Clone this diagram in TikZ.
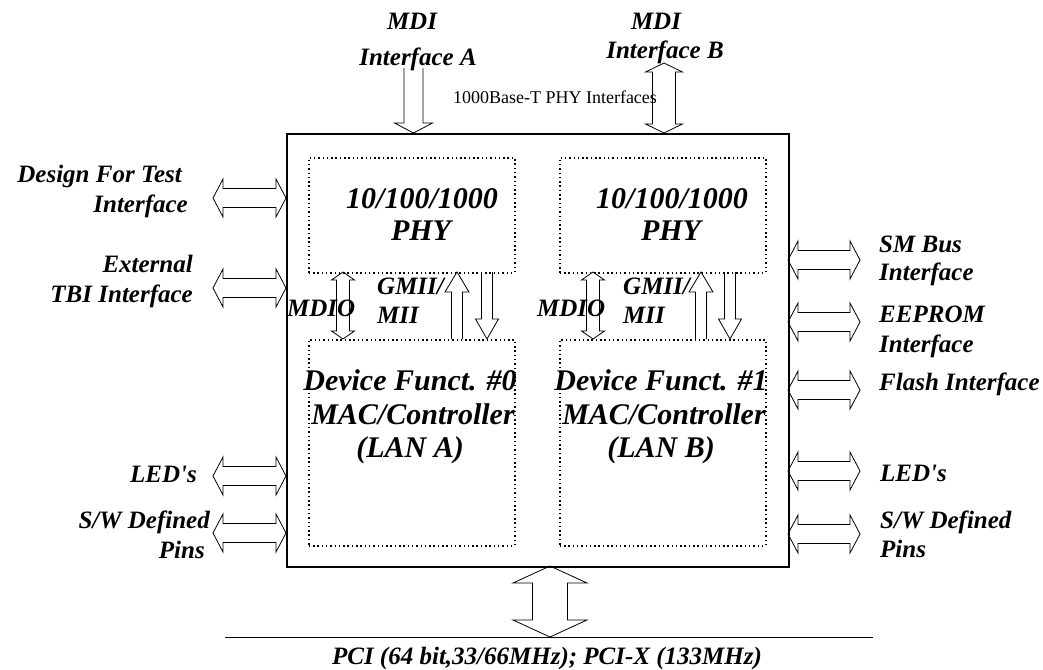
\documentclass[tikz,border=0pt]{standalone}
\usepackage{fontspec}
\setmainfont{Liberation Serif}
% vertical double block arrow: x, ytop, ybot, shaft half, head half, head length
\newcommand\blkdv[6]{\draw[blk] (#1,#2) -- (#1+#5,#2+#6) -- (#1+#4,#2+#6) -- (#1+#4,#3-#6) -- (#1+#5,#3-#6) -- (#1,#3) -- (#1-#5,#3-#6) -- (#1-#4,#3-#6) -- (#1-#4,#2+#6) -- (#1-#5,#2+#6) -- cycle;}
% horizontal double block arrow: x1, x2, y, shaft half, head half, head length
\newcommand\blkdh[6]{\draw[blk] (#1,#3) -- (#1+#6,#3-#5) -- (#1+#6,#3-#4) -- (#2-#6,#3-#4) -- (#2-#6,#3-#5) -- (#2,#3) -- (#2-#6,#3+#5) -- (#2-#6,#3+#4) -- (#1+#6,#3+#4) -- (#1+#6,#3+#5) -- cycle;}
% downward single block arrow (open tail): x, ytop, ytip, shaft half, head half, head length
\newcommand\blkdown[6]{\draw[blk] (#1-#4,#2) -- (#1-#4,#3-#6) -- (#1-#5,#3-#6) -- (#1,#3) -- (#1+#5,#3-#6) -- (#1+#4,#3-#6) -- (#1+#4,#2);}
% upward single block arrow (open tail): x, ytip, ybot, shaft half, head half, head length
\newcommand\blkup[6]{\draw[blk] (#1-#4,#3) -- (#1-#4,#2+#6) -- (#1-#5,#2+#6) -- (#1,#2) -- (#1+#5,#2+#6) -- (#1+#4,#2+#6) -- (#1+#4,#3);}
\tikzset{
  lbl/.style={font=\fontsize{25}{30}\selectfont\bfseries\itshape, inner sep=0pt},
  big/.style={font=\fontsize{30}{34}\selectfont\bfseries\itshape, inner sep=0pt},
  small/.style={font=\fontsize{18}{20}\selectfont, inner sep=0pt},
  chip/.style={draw, line width=2pt, inner sep=0pt},
  sub/.style={draw, line width=1.5pt, dash pattern=on 1.5pt off 2.8pt, inner sep=0pt},
  blk/.style={draw, line width=0.8pt, line join=miter},
  bus/.style={draw, line width=1pt}
}
\begin{document}
\begin{tikzpicture}[x=1pt, y=-1pt]
\useasboundingbox (0,0) rectangle (1043,669);
% main chip and sub-blocks
\node[chip, anchor=north west, minimum width=502pt, minimum height=433pt] (chip) at (286,133) {};
\node[sub, anchor=north west, minimum width=206pt, minimum height=115pt] (phyA) at (308,157) {};
\node[sub, anchor=north west, minimum width=206pt, minimum height=115pt] (phyB) at (559,157) {};
\node[sub, anchor=north west, minimum width=206pt, minimum height=206pt] (macA) at (308,339) {};
\node[sub, anchor=north west, minimum width=206pt, minimum height=206pt] (macB) at (559,339) {};
% texts inside
\node[big, anchor=base] (phyAt1) at (422,208) {10/100/1000};
\node[big, anchor=base] (phyAt2) at (421,240) {PHY};
\node[big, anchor=base] (phyBt1) at (672,208) {10/100/1000};
\node[big, anchor=base] (phyBt2) at (671,240) {PHY};
\node[big, anchor=base] (macAt1) at (410,390) {Device Funct. \#0};
\node[big, anchor=base] (macAt2) at (413,424) {MAC/Controller};
\node[big, anchor=base] (macAt3) at (410,457) {(LAN A)};
\node[big, anchor=base] (macBt1) at (661,390) {Device Funct. \#1};
\node[big, anchor=base] (macBt2) at (664,424) {MAC/Controller};
\node[big, anchor=base] (macBt3) at (661,457) {(LAN B)};
\node[lbl, anchor=base west] (mdioA) at (287,316) {MDIO};
\node[lbl, anchor=base west] (mdioB) at (537,316) {MDIO};
\node[lbl, anchor=base west] (gmiiA1) at (377,294) {GMII/};
\node[lbl, anchor=base west] (gmiiA2) at (377,323) {MII};
\node[lbl, anchor=base west] (gmiiB1) at (623,294) {GMII/};
\node[lbl, anchor=base west] (gmiiB2) at (623,323) {MII};
% internal arrows
\blkdv{343}{272}{339}{6.5}{11.5}{8}
\blkup{457}{272}{339}{5.5}{12}{20}
\blkdown{487}{272}{339}{5.5}{11.5}{20}
\blkdv{593}{272}{339}{6.5}{11.5}{8}
\blkup{701}{272}{339}{5.5}{12}{20}
\blkdown{730}{272}{339}{5.5}{11.5}{20}
% top
\node[lbl, anchor=base] (mdiA1) at (412,30) {MDI};
\node[lbl, anchor=base] (mdiA2) at (418,66) {Interface A};
\node[lbl, anchor=base] (mdiB1) at (656,30) {MDI};
\node[lbl, anchor=base] (mdiB2) at (665,59) {Interface B};
\node[small, anchor=base] (phyif) at (555,103) {1000Base-T PHY Interfaces};
\blkdown{413.5}{68}{133}{9.5}{19}{10}
\blkdv{664}{63}{133}{11.5}{18.5}{9}
% left side
\node[lbl, anchor=base east] (dft1) at (182,182) {Design For Test};
\node[lbl, anchor=base east] (dft2) at (188,212) {Interface};
\node[lbl, anchor=base east] (tbi1) at (193,272) {External};
\node[lbl, anchor=base east] (tbi2) at (193,302) {TBI Interface};
\node[lbl, anchor=base east] (ledL) at (197,482) {LED\textquotesingle s};
\node[lbl, anchor=base east] (swL1) at (210,528) {S/W Defined};
\node[lbl, anchor=base east] (swL2) at (205,558) {Pins};
\blkdh{213}{286}{198}{9.5}{19}{10}
\blkdh{213}{286}{288}{9.5}{19}{10}
\blkdh{213}{286}{476}{9.5}{19}{10}
\blkdh{213}{286}{533}{9.5}{19}{10}
% right side
\node[lbl, anchor=base west] (sm1) at (879,252) {SM Bus};
\node[lbl, anchor=base west] (sm2) at (879,280) {Interface};
\node[lbl, anchor=base west] (ee1) at (879,322) {EEPROM};
\node[lbl, anchor=base west] (ee2) at (879,352) {Interface};
\node[lbl, anchor=base west] (fl) at (879,390) {Flash Interface};
\node[lbl, anchor=base west] (ledR) at (880,481) {LED\textquotesingle s};
\node[lbl, anchor=base west] (swR1) at (880,528) {S/W Defined};
\node[lbl, anchor=base west] (swR2) at (880,557) {Pins};
\blkdh{788}{860}{260}{9.5}{19}{10}
\blkdh{788}{860}{322}{9.5}{19}{10}
\blkdh{788}{860}{390}{9.5}{19}{10}
\blkdh{788}{860}{471}{9.5}{19}{10}
\blkdh{788}{860}{534}{9.5}{19}{10}
% bottom bus
\coordinate (busL) at (225,637);
\coordinate (busR) at (873,637);
\draw[bus] (busL) -- (busR);
\blkdv{550}{566}{637}{17.5}{37}{17}
\node[lbl, anchor=base] (pci) at (547,664) {PCI (64 bit,33/66MHz); PCI-X (133MHz)};
\end{tikzpicture}
\end{document}
